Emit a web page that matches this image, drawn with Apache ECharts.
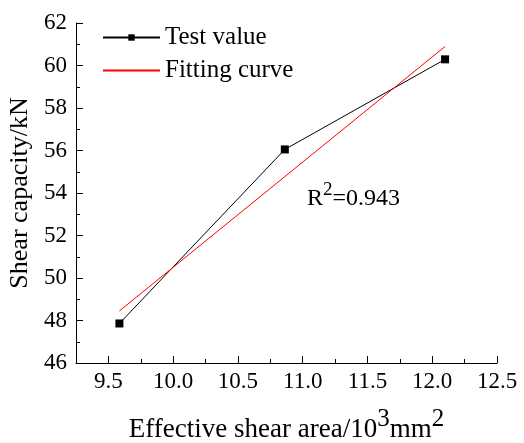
<!DOCTYPE html>
<html>
<head>
<meta charset="utf-8">
<script src="https://cdn.jsdelivr.net/npm/echarts@6/dist/echarts.min.js"></script>
<style>
  html, body { margin: 0; padding: 0; background: #fff; }
  #main { width: 524px; height: 443px; }
</style>
</head>
<body>
<div id="main"></div>
<script>
// test points
var testX = [9.585, 10.862, 12.099];
var testY = [47.86, 56.05, 60.29];
// fitted line ends
var fitX = [9.585, 12.1];
var fitY = [48.45, 60.9];
// ticks
var xTickValues = [9.5, 10.0, 10.5, 11.0, 11.5, 12.0, 12.5];
var xMinorValues = [9.75, 10.25, 10.75, 11.25, 11.75, 12.25];
var r2Text = '0.943';

var font = 'Liberation Serif';
var chart = echarts.init(document.getElementById('main'));

function pairs(xs, ys) {
    return xs.map(function (x, i) { return [x, ys[i]]; });
}

var xBase = {
    type: 'value',
    min: 9.25,
    max: 12.5,
    splitLine: {show: false}
};

chart.setOption({
    animation: false,
    backgroundColor: '#fff',
    grid: {left: 76, right: 27, top: 23, bottom: 80, outerBoundsMode: 'none'},
    legend: {
        left: 102,
        top: 25,
        padding: 0,
        orient: 'vertical',
        itemWidth: 57,
        itemHeight: 8,
        itemGap: 8,
        textStyle: {fontFamily: font, fontSize: 25, color: '#000'},
        data: [
            {name: 'Test value'},
            {name: 'Fitting curve', itemStyle: {opacity: 0}}
        ]
    },
    xAxis: [
        Object.assign({}, xBase, {
            position: 'bottom',
            name: '{n|Effective shear area/10}{s|3}{n|mm}{s|2}',
            nameLocation: 'middle',
            nameGap: 44,
            nameTextStyle: {
                rich: {
                    n: {fontFamily: font, fontSize: 27, color: '#000', lineHeight: 36, verticalAlign: 'bottom'},
                    s: {fontFamily: font, fontSize: 25, color: '#000', lineHeight: 26, verticalAlign: 'top'}
                }
            },
            axisLine: {lineStyle: {color: '#000', width: 1}},
            axisTick: {inside: true, length: 7, customValues: xTickValues, lineStyle: {color: '#000'}},
            axisLabel: {
                customValues: xTickValues,
                fontFamily: font, fontSize: 23, color: '#000', margin: 7,
                formatter: function (v) { return v.toFixed(1); }
            }
        }),
        Object.assign({}, xBase, {
            position: 'bottom',
            axisLine: {show: false},
            axisTick: {inside: true, length: 4, customValues: xMinorValues, lineStyle: {color: '#000'}},
            axisLabel: {show: false}
        })
    ],
    yAxis: {
        type: 'value',
        min: 46,
        max: 62,
        interval: 2,
        name: 'Shear capacity/kN',
        nameLocation: 'middle',
        nameGap: 40,
        nameTextStyle: {fontFamily: font, fontSize: 26, color: '#000'},
        splitLine: {show: false},
        axisLine: {show: true, lineStyle: {color: '#000', width: 1}},
        axisTick: {inside: true, length: 7, lineStyle: {color: '#000'}},
        minorTick: {show: true, splitNumber: 2, length: 4, lineStyle: {color: '#000'}},
        axisLabel: {fontFamily: font, fontSize: 23, color: '#000', margin: 9}
    },
    graphic: [{
        type: 'text',
        left: 307,
        top: 181,
        style: {
            text: '{r|R}{s|2}{r|=' + r2Text + '}',
            rich: {
                r: {fontFamily: font, fontSize: 24, fill: '#000', lineHeight: 30, verticalAlign: 'bottom'},
                s: {fontFamily: font, fontSize: 19, fill: '#000', lineHeight: 22, verticalAlign: 'top'}
            }
        }
    }],
    series: [
        {
            name: 'Test value',
            type: 'line',
            data: pairs(testX, testY),
            symbol: 'rect',
            symbolSize: 8,
            itemStyle: {color: '#000'},
            lineStyle: {color: '#000', width: 1}
        },
        {
            name: 'Fitting curve',
            type: 'line',
            data: pairs(fitX, fitY),
            showSymbol: false,
            symbol: 'none',
            itemStyle: {color: '#ff0000'},
            lineStyle: {color: '#ff0000', width: 1}
        }
    ]
});
</script>
</body>
</html>
